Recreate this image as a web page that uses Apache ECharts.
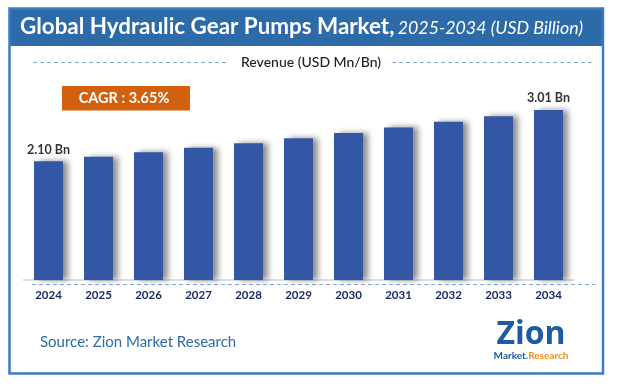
<!DOCTYPE html>
<html>
<head>
<meta charset="utf-8">
<script src="https://cdn.jsdelivr.net/npm/echarts@6/dist/echarts.min.js"></script>
<style>
html,body{margin:0;padding:0;background:#fff;}
#c{width:617px;height:387px;}
</style>
</head>
<body>
<div id="c"></div>
<script>
const categories = ['2024','2025','2026','2027','2028','2029','2030','2031','2032','2033','2034'];
const revenue = [2.10, 2.18, 2.26, 2.34, 2.42, 2.51, 2.60, 2.70, 2.80, 2.90, 3.01];
const labelledIndexes = [0, 10];
const titleMain = 'Global Hydraulic Gear Pumps Market,';
const titleSub = '2025-2034 (USD Billion)';
const subtitle = 'Revenue (USD Mn/Bn)';
const cagrText = 'CAGR : 3.65%';
const sourceText = 'Source: Zion Market Research';

const chart = echarts.init(document.getElementById('c'), null, {renderer:'canvas'});
const font = 'Lato, "Open Sans", sans-serif';
const dashColor = '#7fa8dc';

chart.setOption({
  animation:false,
  grid:{left:23.5, right:43.5, top:82.25, bottom:107},
  xAxis:{
    type:'category', data:categories,
    axisLine:{lineStyle:{color:'#d3d3d3', width:1.5}},
    axisTick:{show:false},
    axisLabel:{color:'#1e2a66', fontWeight:'bold', fontSize:11.5, fontFamily:font, margin:9}
  },
  yAxis:{type:'value', min:0, max:3.5, show:false, splitLine:{show:false}},
  series:[{
    type:'bar', data:revenue, barWidth:29,
    itemStyle:{color:'#3357a5', shadowColor:'rgba(0,0,0,0.45)', shadowBlur:6, shadowOffsetX:5},
    label:{
      show:true, position:'top', distance:5, color:'#333', fontWeight:'bold', fontSize:12.5, fontFamily:font,
      formatter:p => labelledIndexes.includes(p.dataIndex) ? p.value.toFixed(2) + ' Bn' : ''
    }
  }],
  graphic:[
    {type:'rect', shape:{x:9.5, y:8.5, width:593.5, height:365}, style:{fill:'none', stroke:'#3a7bc3', lineWidth:2.5}, z:10},
    {type:'rect', shape:{x:9.5, y:8.5, width:593.5, height:37.5}, style:{fill:'#2d6aa8'}, z:9},
    {type:'text', left:20, top:16, z:11, style:{
      rich:{
        a:{fontSize:22.4, fontWeight:'bold', fill:'#fff', fontFamily:font},
        b:{fontSize:17.8, fontStyle:'italic', fill:'#fff', fontFamily:font, padding:[3,0,0,0]}
      },
      text:'{a|' + titleMain + '} {b|' + titleSub + '}'
    }},
    {type:'line', shape:{x1:33, y1:62.5, x2:229, y2:62.5}, style:{stroke:dashColor, lineWidth:1, lineDash:[4,3]}},
    {type:'line', shape:{x1:392, y1:62.5, x2:595, y2:62.5}, style:{stroke:dashColor, lineWidth:1, lineDash:[4,3]}},
    {type:'text', x:311, y:62.5, style:{text:subtitle, fontSize:14, fill:'#222', fontFamily:font, fontWeight:'500', textAlign:'center', textVerticalAlign:'middle'}},
    {type:'rect', shape:{x:62, y:86, width:128, height:24.5}, style:{fill:'#d2600d'}},
    {type:'text', x:124, y:98.5, style:{text:cagrText, fontSize:14.5, fontWeight:'bold', fill:'#fff', fontFamily:font, textAlign:'center', textVerticalAlign:'middle'}},
    {type:'line', shape:{x1:32, y1:284.5, x2:595, y2:284.5}, style:{stroke:dashColor, lineWidth:1, lineDash:[4,3]}},
    {type:'text', x:40, y:342, style:{text:sourceText, fontSize:15, fill:'#2e6aa8', fontFamily:font, textVerticalAlign:'middle'}},
    {type:'text', x:531, y:335, style:{text:'Zion', fontSize:32, fontWeight:'bold', fill:'#1f5aa6', fontFamily:'"Open Sans", sans-serif', textAlign:'center', textVerticalAlign:'middle'}},
    {type:'text', x:531, y:356, style:{
      rich:{m:{fontSize:10, fontWeight:'bold', fill:'#1f5aa6', fontFamily:font}, r:{fontSize:10, fontWeight:'bold', fill:'#f28c1c', fontFamily:font}},
      text:'{m|Market.}{r|Research}', textAlign:'center', textVerticalAlign:'middle'
    }}
  ]
});
</script>
</body>
</html>
